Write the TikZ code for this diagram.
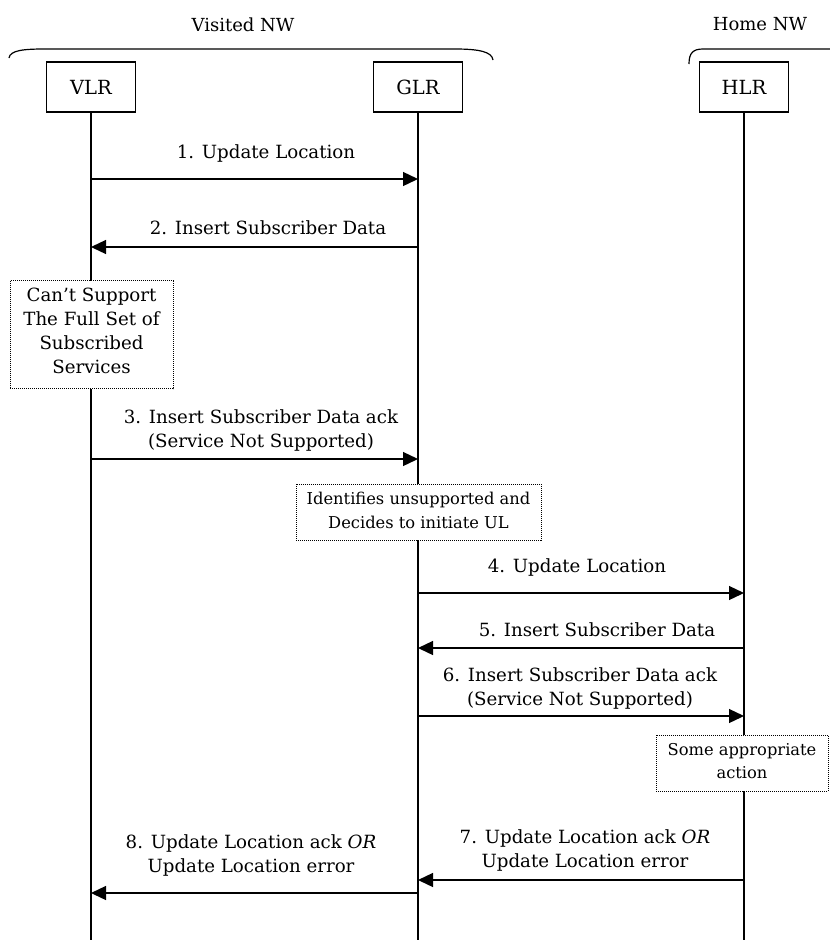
\documentclass[tikz,border=0pt]{standalone}
\usepackage{fontspec}
\setmainfont{DejaVu Serif}
\usetikzlibrary{arrows.meta}
\begin{document}
\begin{tikzpicture}[x=1pt,y=-1pt,
  entity/.style={draw, line width=1.2pt, minimum width=89pt, minimum height=50pt, inner sep=0pt, font=\fontsize{19.5}{22}\selectfont},
  head/.style={inner sep=0pt, font=\fontsize{18}{22}\selectfont},
  note/.style={draw, dash pattern=on 1pt off 1pt, line width=0.9pt, fill=white, inner sep=0pt},
  notetext/.style={align=center, inner sep=0pt},
  lbl/.style={align=center, inner sep=0pt, font=\fontsize{18.2}{24}\selectfont},
  msg/.style={line width=1.3pt, -{Triangle[length=15pt,width=14pt]}},
  life/.style={line width=1.2pt},
  bracket/.style={line width=1.2pt}]
\useasboundingbox (0,0) rectangle (830,943);
% headings and brackets
\node[head] (vnw) at (243,25) {Visited NW};
\node[head] (hnw) at (760,24) {Home NW};
\draw[bracket] (9,58) .. controls (10,50) and (25,49) .. (45,49) -- (455,49) .. controls (480,49) and (492,52) .. (493,60);
\draw[bracket] (689,64) .. controls (689,53) and (693,49) .. (703,49) -- (830,49);
% entities
\node[entity] (VLR) at (91,87) {VLR};
\node[entity] (GLR) at (418,87) {GLR};
\node[entity] (HLR) at (744,87) {HLR};
\coordinate (VLRend) at (91,940);
\coordinate (GLRend) at (418,940);
\coordinate (HLRend) at (744,940);
\draw[life] (VLR.south) -- (VLRend);
\draw[life] (GLR.south) -- (GLRend);
\draw[life] (HLR.south) -- (HLRend);
% message end points
\coordinate (v1) at (91,179);  \coordinate (g1) at (418,179);
\coordinate (v2) at (91,247);  \coordinate (g2) at (418,247);
\coordinate (v3) at (91,459);  \coordinate (g3) at (418,459);
\coordinate (g4) at (418,593); \coordinate (h4) at (744,593);
\coordinate (g5) at (418,648); \coordinate (h5) at (744,648);
\coordinate (g6) at (418,716); \coordinate (h6) at (744,716);
\coordinate (g7) at (418,880); \coordinate (h7) at (744,880);
\coordinate (v8) at (91,893);  \coordinate (g8) at (418,893);
% notes
\node[note, minimum width=163pt, minimum height=108pt] (n1) at (91.5,334.5) {};
\node[notetext, font=\fontsize{18.2}{24}\selectfont] (n1t) at (91.5,331) {Can’t Support\\The Full Set of\\Subscribed\\Services};
\node[note, minimum width=245pt, minimum height=56pt] (n2) at (418.5,512) {};
\node[notetext, font=\fontsize{16.3}{24}\selectfont] (n2t) at (418.5,510) {Identifies unsupported and\\Decides to initiate UL};
\node[note, minimum width=172pt, minimum height=56pt] (n3) at (742,763) {};
\node[notetext, font=\fontsize{16.3}{23}\selectfont] (n3t) at (742,761) {Some appropriate\\action};
% messages
\node[lbl] (l1) at (266,153) {1. Update Location};
\draw[msg] (v1) -- (g1);
\node[lbl] (l2) at (268,228) {2. Insert Subscriber Data};
\draw[msg] (g2) -- (v2);
\node[lbl] (l3) at (261,430.5) {3. Insert Subscriber Data ack\\(Service Not Supported)};
\draw[msg] (v3) -- (g3);
\node[lbl] (l4) at (577,567) {4. Update Location};
\draw[msg] (g4) -- (h4);
\node[lbl] (l5) at (597,630) {5. Insert Subscriber Data};
\draw[msg] (h5) -- (g5);
\node[lbl] (l6) at (580,688) {6. Insert Subscriber Data ack\\(Service Not Supported)};
\draw[msg] (g6) -- (h6);
\node[lbl] (l7) at (585,850) {7. Update Location ack \textit{OR}\\Update Location error};
\draw[msg] (h7) -- (g7);
\node[lbl] (l8) at (251,855) {8. Update Location ack \textit{OR}\\Update Location error};
\draw[msg] (g8) -- (v8);
\end{tikzpicture}
\end{document}
